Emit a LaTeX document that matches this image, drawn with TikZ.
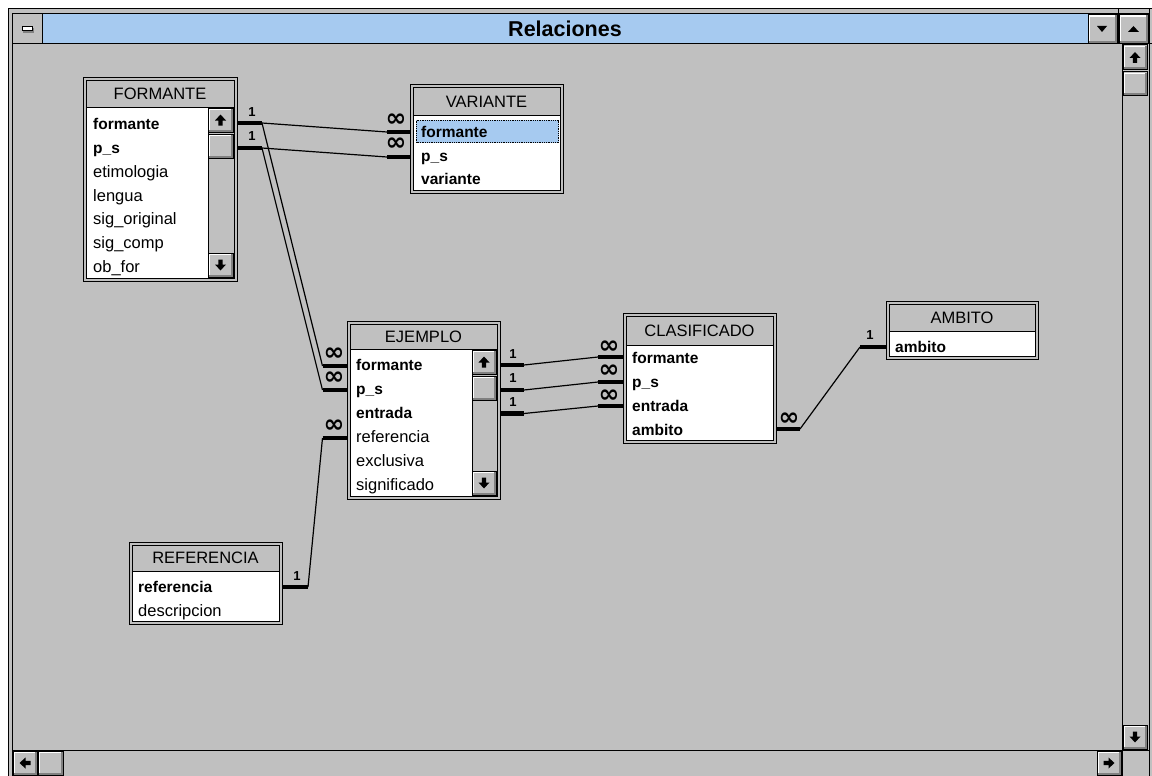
\documentclass[tikz,border=0pt]{standalone}
\usepackage{fontspec}
\setmainfont{Liberation Sans}
\newfontfamily\symfont{DejaVu Sans}
\definecolor{winbg}{HTML}{C0C0C0}
\definecolor{titleblue}{HTML}{A6CAF0}
\definecolor{shadowg}{HTML}{808080}
\newcommand{\btn}[4]{%
  \fill[winbg] (#1,#2) rectangle (#3,#4);
  \draw[white,line width=1.5] (#1+1.5,#4-2) -- (#1+1.5,#2+1.5) -- (#3-2,#2+1.5);
  \draw[shadowg,line width=2] (#1+1,#4-1.5) -- (#3-1.5,#4-1.5) -- (#3-1.5,#2+1);
  \draw[line width=1] (#1,#2) rectangle (#3,#4);
}
\newcommand{\arr}[3]{%
  \begin{scope}[shift={(#1,#2)},rotate=#3]
    \fill (-5.5,0.5) -- (0,-5.5) -- (5.5,0.5) -- (2.2,0.5) -- (2.2,5.5) -- (-2.2,5.5) -- (-2.2,0.5) -- cycle;
  \end{scope}}
\newcommand{\tbl}[7]{%
  \draw[fill=winbg,line width=1] (#2,#3) rectangle (#4,#5);
  \draw[line width=1] (#2+3,#3+3) rectangle (#4-3,#5-3);
  \fill[white] (#2+3.5,#6+0.5) rectangle (#4-3.5,#5-3.5);
  \draw[line width=1] (#2+3,#6) -- (#4-3,#6);
  \node[ttl] (#1) at ({(#2+#4)/2},{(#3+3+#6)/2}) {#7};
}
\begin{document}
\begin{tikzpicture}[x=1pt,y=-1pt,
  fld/.style={anchor=base west,inner sep=0pt,font=\fontsize{16.5}{18}\selectfont},
  key/.style={anchor=base west,inner sep=0pt,font=\fontsize{15.5}{18}\selectfont\bfseries},
  ttl/.style={inner sep=0pt,font=\fontsize{16.5}{18}\selectfont},
  stub/.style={line width=4.5pt,line cap=butt},
  rel/.style={line width=1.2pt},
  one/.style={inner sep=0pt,font=\fontsize{13}{14}\selectfont\bfseries},
  many/.style={inner sep=0pt,font={\symfont\bfseries\fontsize{25}{25}\selectfont}}]
\useasboundingbox (0,0) rectangle (1152,776);
\fill[white] (0,0) rectangle (1152,776);
% window
\fill[winbg] (8,9) rectangle (1152,776);
\draw[line width=1] (8,776) -- (8,9) -- (1152,9);
\draw[line width=1] (12,776) -- (12,14) -- (1149,14);
\draw[line width=1] (1149.5,9) -- (1149.5,776);
\fill[titleblue] (42.5,14.5) rectangle (1087.5,43.5);
\draw[line width=1] (12,44) -- (1152,44);
\draw[line width=1] (42,14) -- (42,44);
\fill[shadowg] (23,28) rectangle (34,33);
\draw[fill=white,line width=1] (22,27) rectangle (32,31);
\btn{1088}{14.5}{1117}{43.5}
\fill (1097,26) -- (1107,26) -- (1102,32) -- cycle;
\btn{1119}{14.5}{1148.5}{43.5}
\fill (1128,32) -- (1139,32) -- (1133.5,26) -- cycle;
\draw[line width=1] (1118,9) -- (1118,44);
\node[font=\fontsize{21.5}{24}\selectfont\bfseries] (title) at (565,29) {Relaciones};
% vertical scrollbar
\draw[line width=1] (1122,44) -- (1122,776);
\btn{1123}{45}{1147.5}{70}
\arr{1135}{57.5}{0}
\btn{1123}{72}{1147.5}{96}
\btn{1123}{725}{1147.5}{749.5}
\arr{1135}{737}{180}
% horizontal scrollbar
\draw[line width=1] (12,750) -- (1149,750);
\btn{13}{751}{37}{775.5}
\arr{25}{763}{90}
\btn{38}{751}{63}{775.5}
\btn{1097}{751}{1121}{775.5}
\arr{1109}{763}{-90}
% ---------------- tables
\tbl{formante}{83}{78}{237}{281}{107}{FORMANTE}
\fill[winbg] (208,108) rectangle (233.5,277.5);
\draw[line width=1] (208,107) -- (208,278);
\btn{208}{108}{233.5}{132.5}
\arr{220.5}{120}{0}
\btn{208}{134}{233.5}{158}
\btn{208}{253}{233.5}{277.5}
\arr{220.5}{265}{180}
\node[key] (f1) at (93,129) {formante};
\node[key] (f2) at (93,153) {p\_s};
\node[fld] (f3) at (93,177) {etimologia};
\node[fld] (f4) at (93,201) {lengua};
\node[fld] (f5) at (93,224) {sig\_original};
\node[fld] (f6) at (93,248) {sig\_comp};
\node[fld] (f7) at (93,272) {ob\_for};

\tbl{variante}{410}{85}{563}{193}{115}{VARIANTE}
\fill[titleblue] (416,120) rectangle (559,143);
\draw[densely dotted,line width=0.8] (416.5,120.5) rectangle (558.5,142.5);
\node[key] (v1) at (421,137) {formante};
\node[key] (v2) at (421,161) {p\_s};
\node[key] (v3) at (421,184) {variante};

\tbl{ejemplo}{347}{321}{500}{499}{349}{EJEMPLO}
\fill[winbg] (472,350) rectangle (496.5,495.5);
\draw[line width=1] (472,349) -- (472,496);
\btn{472}{350}{496.5}{374}
\arr{484}{362}{0}
\btn{472}{376}{496.5}{400}
\btn{472}{471}{496.5}{495.5}
\arr{484}{483}{180}
\node[key] (e1) at (356,370) {formante};
\node[key] (e2) at (356,394) {p\_s};
\node[key] (e3) at (356,418) {entrada};
\node[fld] (e4) at (356,442) {referencia};
\node[fld] (e5) at (356,466) {exclusiva};
\node[fld] (e6) at (356,490) {significado};

\tbl{clasificado}{623}{313}{776}{443}{345}{CLASIFICADO}
\node[key] (c1) at (632,363) {formante};
\node[key] (c2) at (632,387) {p\_s};
\node[key] (c3) at (632,411) {entrada};
\node[key] (c4) at (632,435) {ambito};

\tbl{ambito}{886}{301}{1038}{359}{331}{AMBITO}
\node[key] (a1) at (895,352) {ambito};

\tbl{referencia}{129}{542}{282}{624}{571}{REFERENCIA}
\node[key] (r1) at (138,592) {referencia};
\node[fld] (r2) at (138,616) {descripcion};

% ---------------- relation lines
\coordinate (fA) at (262,123);
\coordinate (fB) at (262,148);
\coordinate (vA) at (387,132);
\coordinate (vB) at (387,157);
\coordinate (eA) at (322.5,366);
\coordinate (eB) at (322.5,390);
\coordinate (eD) at (322.5,438);
\coordinate (eRA) at (524,365);
\coordinate (eRB) at (524,390);
\coordinate (eRC) at (524,413.5);
\coordinate (cA) at (598,357);
\coordinate (cB) at (598,382);
\coordinate (cC) at (598,406);
\coordinate (cD) at (800,429);
\coordinate (aA) at (860,347);
\coordinate (rA) at (308,587);
\draw[rel] (fA) -- (vA);
\draw[rel] (fB) -- (vB);
\draw[rel] (fA) -- (eA);
\draw[rel] (fB) -- (eB);
\draw[rel] (eRA) -- (cA);
\draw[rel] (eRB) -- (cB);
\draw[rel] (eRC) -- (cC);
\draw[rel] (cD) -- (aA);
\draw[rel] (rA) -- (eD);
% stubs
\draw[stub] (237,123) -- (fA);
\draw[stub] (237,148) -- (fB);
\draw[stub] (vA) -- (410,132);
\draw[stub] (vB) -- (410,157);
\draw[stub] (eA) -- (347,366);
\draw[stub] (eB) -- (347,390);
\draw[stub] (eD) -- (347,438);
\draw[stub] (500,365) -- (eRA);
\draw[stub] (500,390) -- (eRB);
\draw[stub] (500,413.5) -- (eRC);
\draw[stub] (cA) -- (623,357);
\draw[stub] (cB) -- (623,382);
\draw[stub] (cC) -- (623,406);
\draw[stub] (776,429) -- (cD);
\draw[stub] (aA) -- (886,347);
\draw[stub] (282,587) -- (rA);
% cardinality labels
\node[one] (l1) at (252,112) {1};
\node[one] (l2) at (252,136) {1};
\node[many] (m1) at (396,120) {∞};
\node[many] (m2) at (396,144) {∞};
\node[many] (m3) at (334,354.5) {∞};
\node[many] (m4) at (334,378.5) {∞};
\node[many] (m5) at (334,426) {∞};
\node[one] (l3) at (513,354) {1};
\node[one] (l4) at (513,378) {1};
\node[one] (l5) at (513,402) {1};
\node[many] (m6) at (609,347) {∞};
\node[many] (m7) at (609,371) {∞};
\node[many] (m8) at (609,396) {∞};
\node[many] (m9) at (789,419) {∞};
\node[one] (l6) at (870,335) {1};
\node[one] (l7) at (297,576) {1};
\end{tikzpicture}
\end{document}
